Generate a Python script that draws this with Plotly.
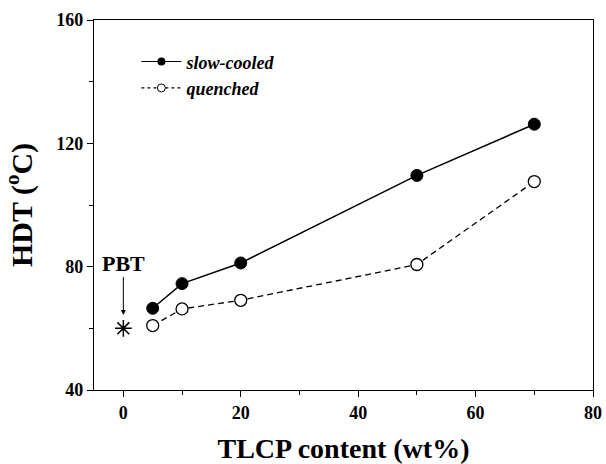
import plotly.graph_objects as go

tlcp = [5, 10, 20, 50, 70]
slow_cooled = [66.5, 74.5, 81.2, 109.6, 126.2]
quenched = [60.9, 66.3, 69.1, 80.7, 107.6]
pbt_x = [0]
pbt_y = [60]

FONT = "Liberation Serif"
DASH = "6px,4px"

fig = go.Figure()
# data traces
fig.add_trace(go.Scatter(
    x=tlcp, y=slow_cooled, mode="lines+markers", showlegend=False,
    line=dict(color="black", width=1.5),
    marker=dict(symbol="circle", size=12, color="black", line=dict(color="black", width=1)),
))
fig.add_trace(go.Scatter(
    x=tlcp, y=quenched, mode="lines+markers", showlegend=False,
    line=dict(color="black", width=1.3, dash=DASH),
    marker=dict(symbol="circle", size=12, color="white", line=dict(color="black", width=1.3)),
))
fig.add_trace(go.Scatter(
    x=pbt_x, y=pbt_y, mode="markers", showlegend=False,
    marker=dict(symbol="asterisk-open", size=14, color="black", line=dict(color="black", width=1.5)),
))
# legend-only entries (smaller legend symbols, as in the reference)
fig.add_trace(go.Scatter(
    x=[None], y=[None], mode="lines+markers", name="<b><i>slow-cooled</i></b>",
    line=dict(color="black", width=1.2),
    marker=dict(symbol="circle", size=8, color="black"),
))
fig.add_trace(go.Scatter(
    x=[None], y=[None], mode="lines+markers", name="<b><i>quenched</i></b>",
    line=dict(color="black", width=1.1, dash="3px,3px"),
    marker=dict(symbol="circle", size=8, color="white", line=dict(color="black", width=1)),
))

fig.add_annotation(
    x=0, y=64.3, xref="x", yref="y", text="<b>PBT</b>",
    showarrow=True, ax=0, ay=-52, axref="pixel", ayref="pixel",
    arrowhead=2, arrowsize=1, arrowwidth=1, arrowcolor="black",
    font=dict(family=FONT, size=22, color="black"),
)

axis_common = dict(
    showline=True, linecolor="black", linewidth=1.2, mirror=True,
    ticks="outside", ticklen=6, tickwidth=1.2, tickcolor="black",
    showgrid=False, zeroline=False, automargin=False,
    tickfont=dict(family=FONT, size=18, color="black", weight="bold"),
)

fig.update_xaxes(
    range=[-5, 80], tick0=0, dtick=20,
    minor=dict(ticks="outside", ticklen=4, dtick=10, tick0=0, tickcolor="black", tickwidth=1),
    title=dict(text="<b>TLCP content (wt%)</b>", font=dict(family=FONT, size=28, color="black"), standoff=16),
    **axis_common,
)
fig.update_yaxes(
    range=[40, 160], tick0=40, dtick=40,
    minor=dict(ticks="outside", ticklen=4, dtick=20, tick0=40, tickcolor="black", tickwidth=1),
    title=dict(text="<b>HDT (<sup>o</sup>C)</b>", font=dict(family=FONT, size=30, color="black"), standoff=22),
    **axis_common,
)

fig.update_layout(
    width=606, height=464,
    margin=dict(l=94, r=13, t=20, b=74),
    paper_bgcolor="white", plot_bgcolor="white",
    showlegend=True,
    legend=dict(
        x=0.085, y=0.937, xanchor="left", yanchor="top",
        bgcolor="rgba(0,0,0,0)", borderwidth=0,
        font=dict(family=FONT, size=18, color="black"),
        tracegroupgap=0, itemwidth=40,
    ),
)

fig.write_html("out.html")
